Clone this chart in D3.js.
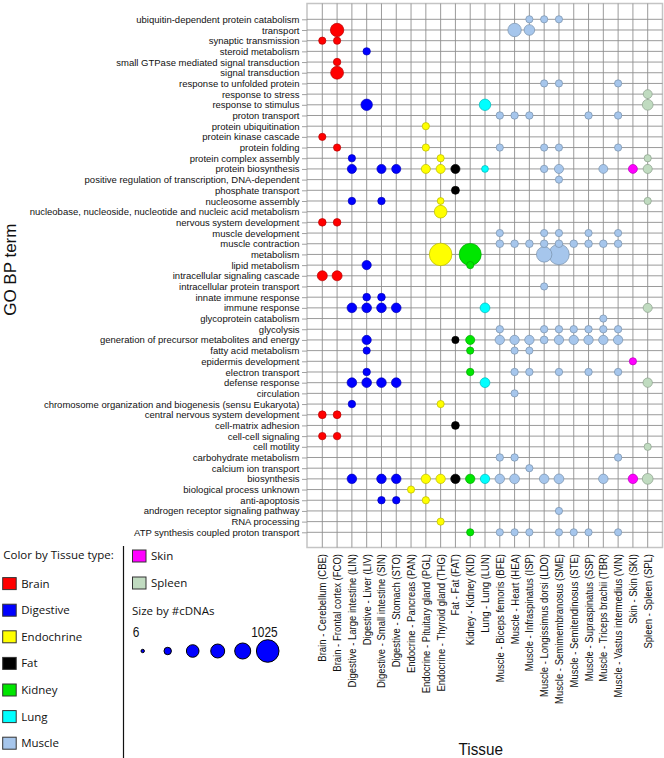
<!DOCTYPE html>
<html>
<head>
<meta charset="utf-8">
<script src="https://cdn.jsdelivr.net/npm/d3@7"></script>
<style>
body { margin: 0; background: #fff; }
svg { display: block; font-family: "Liberation Sans", Arial, sans-serif; }
.legend text { font-family: "Open Sans", sans-serif; font-size: 11.5px; fill: #111; }
</style>
</head>
<body>
<svg id="chart" width="664" height="758"></svg>
<script>
// GO BP terms, top to bottom
var terms = [
    "ubiquitin-dependent protein catabolism", "transport", "synaptic transmission", "steroid metabolism",
    "small GTPase mediated signal transduction", "signal transduction", "response to unfolded protein",
    "response to stress", "response to stimulus", "proton transport", "protein ubiquitination",
    "protein kinase cascade", "protein folding", "protein complex assembly", "protein biosynthesis",
    "positive regulation of transcription, DNA-dependent", "phosphate transport", "nucleosome assembly",
    "nucleobase, nucleoside, nucleotide and nucleic acid metabolism", "nervous system development",
    "muscle development", "muscle contraction", "metabolism", "lipid metabolism",
    "intracellular signaling cascade", "intracellular protein transport", "innate immune response",
    "immune response", "glycoprotein catabolism", "glycolysis", "generation of precursor metabolites and energy",
    "fatty acid metabolism", "epidermis development", "electron transport", "defense response", "circulation",
    "chromosome organization and biogenesis (sensu Eukaryota)", "central nervous system development",
    "cell-matrix adhesion", "cell-cell signaling", "cell motility", "carbohydrate metabolism",
    "calcium ion transport", "biosynthesis", "biological process unknown", "anti-apoptosis",
    "androgen receptor signaling pathway", "RNA processing", "ATP synthesis coupled proton transport"
];

var tissueCodes = ["CBE", "FCO", "LIN", "LIV", "SIN", "STO", "PAN", "PGL", "THG", "FAT", "KID", "LUN",
    "BFE", "HEA", "ISP", "LDO", "SME", "STE", "SSP", "TBR", "VIN", "SKI", "SPL"];

var tissueNames = [
    "Brain - Cerebellum (CBE)", "Brain - Frontal cortex (FCO)", "Digestive - Large intestine (LIN)",
    "Digestive - Liver (LIV)", "Digestive - Small intestine (SIN)", "Digestive - Stomach (STO)",
    "Endocrine - Pancreas (PAN)", "Endocrine - Pituitary gland (PGL)", "Endocrine - Thyroid gland (THG)",
    "Fat - Fat (FAT)", "Kidney - Kidney (KID)", "Lung - Lung (LUN)", "Muscle - Biceps femoris (BFE)",
    "Muscle - Heart (HEA)", "Muscle - Infraspinatus (ISP)", "Muscle - Longissimus dorsi (LDO)",
    "Muscle - Semimembranosus (SME)", "Muscle - Semitendinosus (STE)", "Muscle - Supraspinatus (SSP)",
    "Muscle - Triceps brachii (TBR)", "Muscle - Vastus intermedius (VIN)", "Skin - Skin (SKI)",
    "Spleen - Spleen (SPL)"
];

var typeKeys = ["Brain", "Digestive", "Endocrine", "Fat", "Kidney", "Lung", "Muscle", "Skin", "Spleen"];
var typeLabels = ["Brain", "Digestive", "Endochrine", "Fat", "Kidney", "Lung", "Muscle", "Skin", "Spleen"];
var typeColors = ["#ff0000", "#0000ff", "#ffff00", "#000000", "#00e600", "#00ffff", "#a6c6ec", "#ff00ff", "#c0dbc0"];

var sizeLegendValues = [6, 75, 275, 350, 480, 1025];

// #cDNAs per term and tissue
var hits = [
    ["ubiquitin-dependent protein catabolism", { ISP: 70, LDO: 70, SME: 70 }],
    ["transport", { FCO: 320, HEA: 320, ISP: 185 }],
    ["synaptic transmission", { CBE: 70, FCO: 70 }],
    ["steroid metabolism", { LIV: 75 }],
    ["small GTPase mediated signal transduction", { FCO: 75 }],
    ["signal transduction", { FCO: 290 }],
    ["response to unfolded protein", { LDO: 70, SME: 70, VIN: 70 }],
    ["response to stress", { SPL: 120 }],
    ["response to stimulus", { LIV: 220, LUN: 220, SPL: 190 }],
    ["proton transport", { BFE: 75, HEA: 75, ISP: 75, SSP: 75, VIN: 75 }],
    ["protein ubiquitination", { PGL: 70 }],
    ["protein kinase cascade", { CBE: 70 }],
    ["protein folding", { FCO: 70, PGL: 70, BFE: 70, LDO: 70, SME: 70, VIN: 70 }],
    ["protein complex assembly", { LIN: 70, THG: 70, SPL: 70 }],
    ["protein biosynthesis", { LIN: 125, SIN: 125, STO: 125, PGL: 125, THG: 125, FAT: 125, LUN: 60, LDO: 75, SME: 125, TBR: 120, SKI: 120, SPL: 125 }],
    ["positive regulation of transcription, DNA-dependent", { SME: 70 }],
    ["phosphate transport", { FAT: 90 }],
    ["nucleosome assembly", { LIN: 75, SIN: 75, THG: 60, SPL: 70 }],
    ["nucleobase, nucleoside, nucleotide and nucleic acid metabolism", { THG: 280 }],
    ["nervous system development", { CBE: 80, FCO: 80 }],
    ["muscle development", { BFE: 70, LDO: 70, SME: 70, SSP: 70, VIN: 70 }],
    ["muscle contraction", { BFE: 80, HEA: 80, ISP: 80, LDO: 80, SME: 80, STE: 80, SSP: 80, TBR: 80, VIN: 80 }],
    ["metabolism", { THG: 1025, KID: 970, LDO: 440, SME: 840 }],
    ["lipid metabolism", { LIV: 130, KID: 70 }],
    ["intracellular signaling cascade", { CBE: 160, FCO: 160 }],
    ["intracellular protein transport", { LDO: 70 }],
    ["innate immune response", { LIV: 80, SIN: 80 }],
    ["immune response", { LIN: 145, LIV: 145, SIN: 145, STO: 145, LUN: 150, SPL: 125 }],
    ["glycoprotein catabolism", { TBR: 70 }],
    ["glycolysis", { BFE: 75, LDO: 75, SME: 75, STE: 75, SSP: 75, TBR: 75, VIN: 75 }],
    ["generation of precursor metabolites and energy", { LIV: 130, FAT: 70, KID: 125, BFE: 135, HEA: 135, ISP: 135, LDO: 85, SME: 135, STE: 135, SSP: 135, TBR: 135, VIN: 135 }],
    ["fatty acid metabolism", { LIV: 70, KID: 70, HEA: 70, ISP: 70 }],
    ["epidermis development", { SKI: 70 }],
    ["electron transport", { LIV: 75, KID: 75, HEA: 75, ISP: 75, SME: 75, SSP: 75, VIN: 75 }],
    ["defense response", { LIN: 145, LIV: 145, SIN: 145, STO: 145, LUN: 150, SPL: 135 }],
    ["circulation", { HEA: 70 }],
    ["chromosome organization and biogenesis (sensu Eukaryota)", { LIN: 75, THG: 70 }],
    ["central nervous system development", { CBE: 85, FCO: 85 }],
    ["cell-matrix adhesion", { FAT: 85 }],
    ["cell-cell signaling", { CBE: 75, FCO: 75 }],
    ["cell motility", { SPL: 70 }],
    ["carbohydrate metabolism", { BFE: 75, HEA: 75, VIN: 75 }],
    ["calcium ion transport", { ISP: 70 }],
    ["biosynthesis", { LIN: 140, SIN: 140, STO: 140, PGL: 135, THG: 135, FAT: 135, KID: 135, LUN: 135, BFE: 140, HEA: 150, LDO: 140, SME: 150, TBR: 140, SKI: 140, SPL: 190 }],
    ["biological process unknown", { PAN: 70 }],
    ["anti-apoptosis", { SIN: 75, STO: 75, PGL: 70 }],
    ["androgen receptor signaling pathway", { SME: 70 }],
    ["RNA processing", { THG: 70 }],
    ["ATP synthesis coupled proton transport", { KID: 70, BFE: 70, HEA: 70, ISP: 70, SME: 70, STE: 70, SSP: 70, VIN: 70 }]
];

var svg = d3.select("#chart");

var frame = { left: 307, right: 662.5, top: 3.5, bottom: 547.5 };

var x = d3.scalePoint().domain(tissueCodes).range([322.3, 647.7]);
var y = d3.scalePoint().domain(terms).range([19.3, 532.3]);
var r = d3.scaleSqrt().domain([6, 1025]).range([1.7, 11.3]);
var color = d3.scaleOrdinal().domain(typeKeys).range(typeColors);

function typeOf(code) {
    return tissueNames[tissueCodes.indexOf(code)].split(" - ")[0];
}

// plot area
svg.append("rect")
    .attr("x", frame.left).attr("y", frame.top)
    .attr("width", frame.right - frame.left).attr("height", frame.bottom - frame.top)
    .style("fill", "#fff").style("stroke", "#c4c4c4").style("stroke-width", 1.5);

var grid = svg.append("g").attr("class", "grid");
grid.selectAll(".h").data(terms).enter().append("line")
    .attr("x1", frame.left).attr("x2", frame.right)
    .attr("y1", function (d) { return y(d); }).attr("y2", function (d) { return y(d); })
    .style("stroke", "#8e8e8e").style("stroke-width", 0.9);
grid.selectAll(".v").data(tissueCodes).enter().append("line")
    .attr("x1", function (d) { return x(d); }).attr("x2", function (d) { return x(d); })
    .attr("y1", frame.top).attr("y2", frame.bottom)
    .style("stroke", "#8e8e8e").style("stroke-width", 0.9);

// y axis
var yAxis = svg.append("g")
    .attr("transform", "translate(" + frame.left + ",0)")
    .call(d3.axisLeft(y).tickSize(5).tickPadding(2.5));
yAxis.select(".domain").remove();
yAxis.selectAll("line").style("stroke", "#a0a0a0");
yAxis.selectAll("text")
    .style("font-family", "'Liberation Sans', Arial, sans-serif")
    .style("font-size", "9.5px").style("fill", "#111");

// x axis
var xAxis = svg.append("g")
    .attr("transform", "translate(0," + frame.bottom + ")")
    .call(d3.axisBottom(x).tickSize(0).tickFormat(function (d, i) { return tissueNames[i]; }));
xAxis.select(".domain").remove();
xAxis.selectAll("text")
    .attr("x", 0).attr("y", 0).attr("dy", "0.35em")
    .attr("text-anchor", "end")
    .attr("transform", "rotate(-90) translate(-6.5,0) scale(0.95,1)")
    .style("font-family", "'Liberation Sans', Arial, sans-serif")
    .style("font-size", "10px").style("fill", "#111");

// bubbles
var bubbles = [];
hits.forEach(function (h) {
    Object.keys(h[1]).forEach(function (code) {
        bubbles.push({ term: h[0], code: code, n: h[1][code] });
    });
});
bubbles.sort(function (a, b) { return b.n - a.n; });

svg.append("g").attr("class", "bubbles")
    .selectAll("circle").data(bubbles).enter().append("circle")
    .attr("cx", function (d) { return x(d.code); })
    .attr("cy", function (d) { return y(d.term); })
    .attr("r", function (d) { return r(d.n); })
    .style("fill", function (d) { return color(typeOf(d.code)); })
    .style("stroke", function (d) { return d3.color(color(typeOf(d.code))).darker(0.9); })
    .style("stroke-width", 0.7);

// axis titles
svg.append("text")
    .attr("transform", "translate(480.8,754.5) scale(0.9,1)")
    .attr("text-anchor", "middle")
    .style("font-size", "17px").style("fill", "#111")
    .text("Tissue");
svg.append("text")
    .attr("transform", "translate(15.5,269.7) rotate(-90)")
    .attr("text-anchor", "middle")
    .style("font-size", "17px").style("fill", "#111")
    .text("GO BP term");

// legend
var legend = svg.append("g").attr("class", "legend");
legend.append("line")
    .attr("x1", 123.5).attr("x2", 123.5).attr("y1", 546).attr("y2", 758)
    .style("stroke", "#111").style("stroke-width", 1.2);
legend.append("text").attr("x", 3.3).attr("y", 559).text("Color by Tissue type:");

var items = typeKeys.map(function (k, i) {
    var col = i < 7 ? 0 : 1;
    var row = i < 7 ? i + 1 : i - 7;
    return { key: k, label: typeLabels[i], x: col ? 132.5 : 2.7, cy: col ? 556 + row * 27 : 557 + row * 26.6 };
});
var item = legend.selectAll(".item").data(items).enter().append("g").attr("class", "item");
item.append("rect")
    .attr("x", function (d) { return d.x; }).attr("y", function (d) { return d.cy - 6; })
    .attr("width", 13.5).attr("height", 12)
    .style("fill", function (d) { return color(d.key); })
    .style("stroke", "#333").style("stroke-width", 1);
item.append("text")
    .attr("x", function (d) { return d.x + 18.5; }).attr("y", function (d) { return d.cy + 4; })
    .text(function (d) { return d.label; });

legend.append("text").attr("x", 132).attr("y", 615).text("Size by #cDNAs");

var sizeX = d3.scalePoint().domain(sizeLegendValues).range([142.7, 267.7]);
legend.selectAll(".size").data(sizeLegendValues).enter().append("circle")
    .attr("cx", function (d) { return sizeX(d); }).attr("cy", 651)
    .attr("r", function (d) { return r(d); })
    .style("fill", "#0000ff").style("stroke", "#000").style("stroke-width", 1);
legend.append("text")
    .attr("transform", "translate(132.7,637.3) scale(0.82,1)")
    .style("font-family", "'Liberation Sans', Arial, sans-serif").style("font-size", "14.5px")
    .text(sizeLegendValues[0]);
legend.append("text")
    .attr("transform", "translate(277.7,637.3) scale(0.82,1)")
    .attr("text-anchor", "end")
    .style("font-family", "'Liberation Sans', Arial, sans-serif").style("font-size", "14.5px")
    .text(sizeLegendValues[sizeLegendValues.length - 1]);
</script>
</body>
</html>
